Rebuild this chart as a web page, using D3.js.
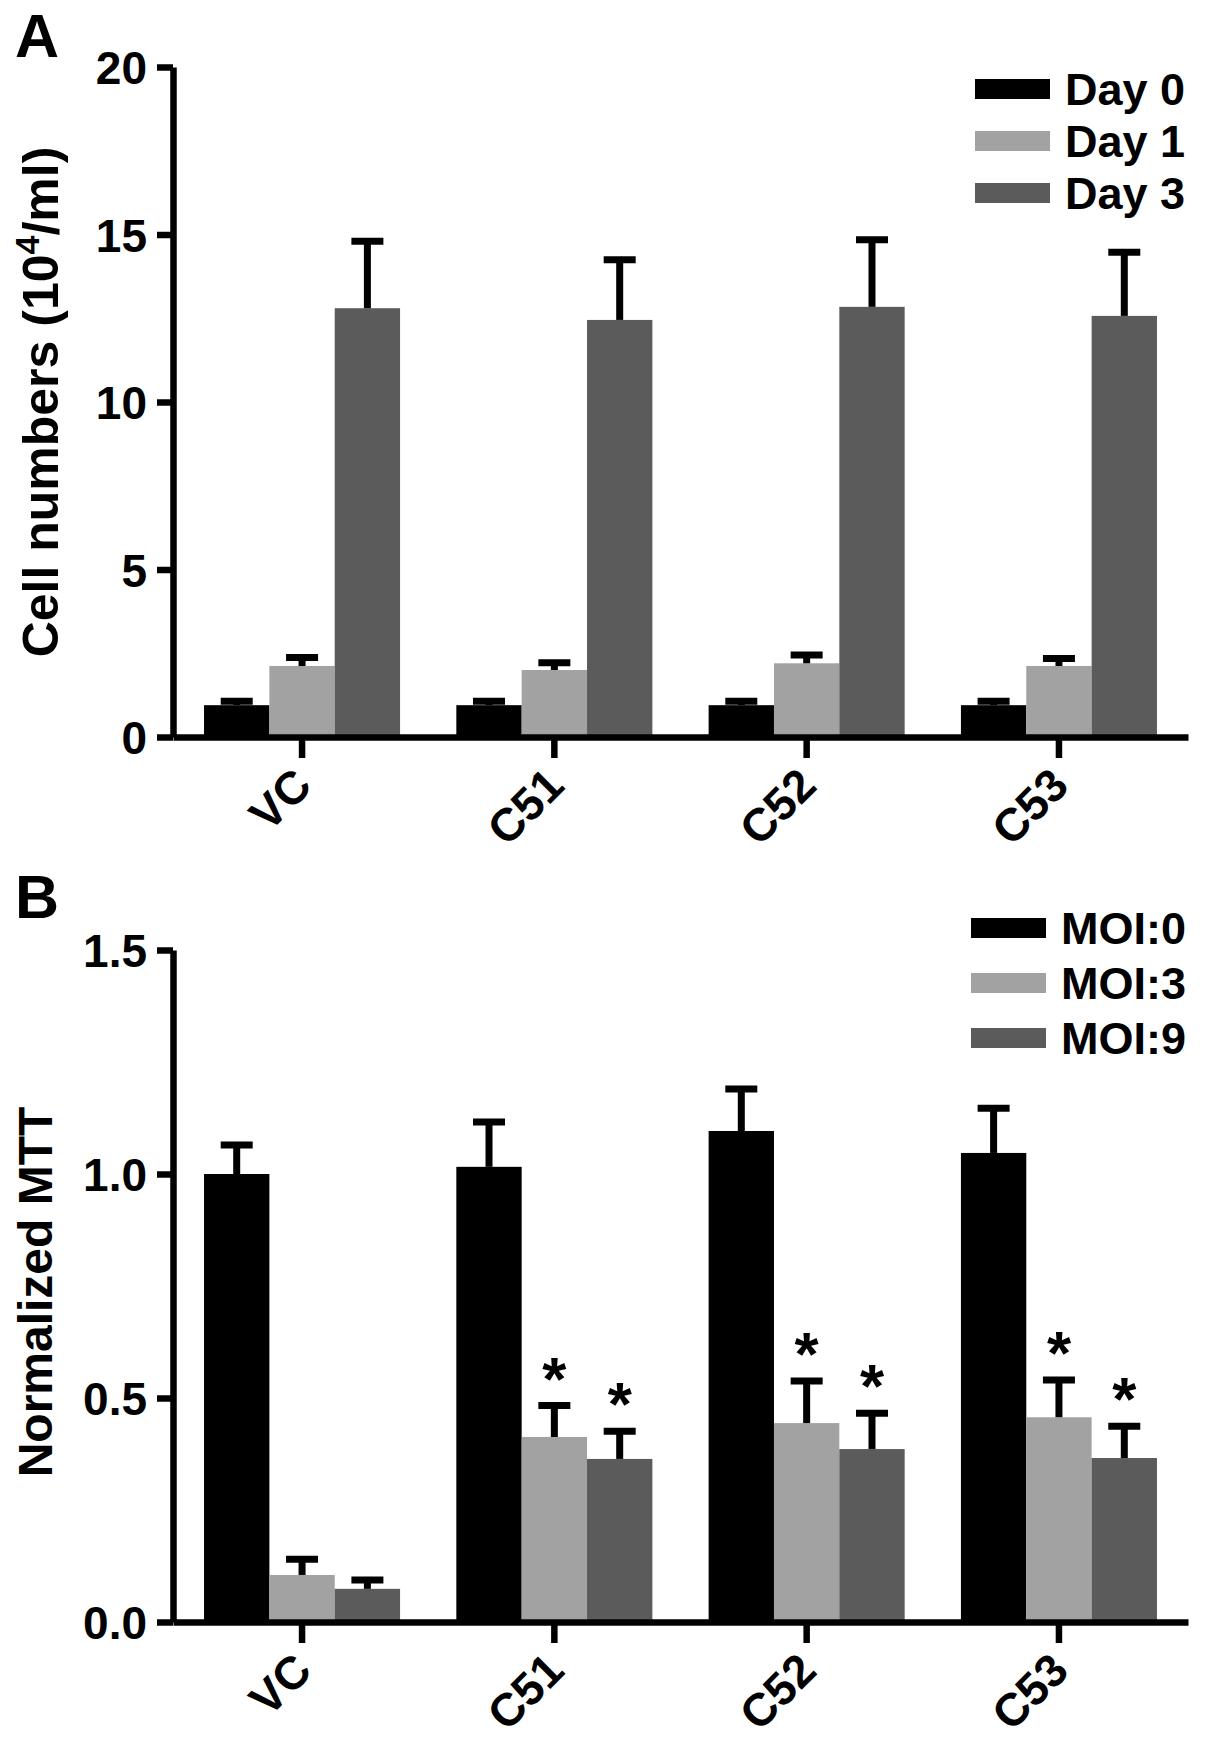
<!DOCTYPE html>
<html lang="en">
<head>
<meta charset="UTF-8">
<title>Cell numbers and normalized MTT</title>
<script src="https://d3js.org/d3.v7.min.js"></script>
<style>
    body {
        margin: 0;
        background: white;
    }
    svg text {
        font-family: "Liberation Sans", Arial, sans-serif;
        font-weight: bold;
        fill: #000;
    }
</style>
</head>
<body>
<div id="chart"></div>
<script>
    const groups = ["VC", "C51", "C52", "C53"];

    // panel A: cell numbers (10^4/ml)
    const daySeries = ["Day 0", "Day 1", "Day 3"];
    const dayMeans = [
        [0.95, 0.95, 0.95, 0.95],
        [2.12, 2.0, 2.2, 2.12],
        [12.8, 12.45, 12.84, 12.57]
    ];
    const dayErrors = [
        [0.12, 0.12, 0.12, 0.12],
        [0.25, 0.22, 0.25, 0.22],
        [2.0, 1.8, 2.0, 1.9]
    ];
    const dayTicks = [0, 5, 10, 15, 20];

    // panel B: normalized MTT
    const moiSeries = ["MOI:0", "MOI:3", "MOI:9"];
    const moiMeans = [
        [1.0, 1.016, 1.096, 1.047],
        [0.105, 0.413, 0.444, 0.457],
        [0.074, 0.364, 0.386, 0.366]
    ];
    const moiErrors = [
        [0.065, 0.10, 0.094, 0.10],
        [0.035, 0.07, 0.094, 0.083],
        [0.02, 0.062, 0.08, 0.071]
    ];
    const moiStars = [
        [false, false, false, false],
        [false, true, true, true],
        [false, true, true, true]
    ];
    const moiTicks = [0, 0.5, 1.0, 1.5];

    const colors = ["#000000", "#a2a2a2", "#5b5b5b"];

    const width = 1205, height = 1746;
    const axisLeftX = 173, axisRightX = 1188;
    const lineW = 6.5;

    const svg = d3.select("#chart")
        .append("svg")
        .attr("width", width)
        .attr("height", height);

    const x0 = d3.scaleBand()
        .domain(groups)
        .range([axisLeftX, axisRightX])
        .paddingInner(0.223)
        .paddingOuter(0.123);

    function drawPanel(p) {
        const g = svg.append("g");

        const x1 = d3.scaleBand()
            .domain(p.series)
            .range([0, x0.bandwidth()])
            .padding(0);

        const y = d3.scaleLinear()
            .domain([0, p.max])
            .range([p.bottom, p.top]);

        const rows = [];
        p.series.forEach((s, i) => {
            groups.forEach((grp, j) => {
                rows.push({
                    group: grp, series: s, i: i,
                    value: p.means[i][j],
                    err: p.errors[i][j],
                    star: p.stars ? p.stars[i][j] : false
                });
            });
        });

        // bars
        g.selectAll("rect.bar")
            .data(rows)
            .enter()
            .append("rect")
            .attr("class", "bar")
            .attr("x", d => x0(d.group) + x1(d.series))
            .attr("y", d => y(d.value))
            .attr("width", x1.bandwidth())
            .attr("height", d => y(0) - y(d.value))
            .attr("fill", d => colors[d.i]);

        // error bars, upper half only
        const cx = d => x0(d.group) + x1(d.series) + x1.bandwidth() / 2;
        const eb = g.selectAll("g.err")
            .data(rows)
            .enter()
            .append("g")
            .attr("class", "err");

        eb.append("line")
            .attr("x1", cx).attr("x2", cx)
            .attr("y1", d => y(d.value))
            .attr("y2", d => y(d.value + d.err))
            .attr("stroke", "#000")
            .attr("stroke-width", 7);

        eb.append("line")
            .attr("x1", d => cx(d) - 16).attr("x2", d => cx(d) + 16)
            .attr("y1", d => y(d.value + d.err))
            .attr("y2", d => y(d.value + d.err))
            .attr("stroke", "#000")
            .attr("stroke-width", 7);

        // significance stars
        g.selectAll("text.star")
            .data(rows.filter(d => d.star))
            .enter()
            .append("text")
            .attr("class", "star")
            .attr("x", cx)
            .attr("y", d => y(d.value + d.err) - 6)
            .attr("text-anchor", "middle")
            .style("font-size", "62px")
            .text("*");

        // y axis
        const yAxis = g.append("g")
            .attr("transform", `translate(${axisLeftX},0)`)
            .call(d3.axisLeft(y)
                .tickValues(p.ticks)
                .tickFormat(p.format)
                .tickSize(16)
                .tickSizeOuter(0)
                .tickPadding(10));
        yAxis.select(".domain").attr("stroke-width", lineW);
        yAxis.selectAll(".tick line").attr("stroke-width", lineW);
        yAxis.selectAll(".tick text")
            .attr("font-family", null)
            .attr("font-size", null)
            .attr("dy", "0.36em")
            .style("font-size", "46px");

        // x axis
        const xAxis = g.append("g")
            .attr("transform", `translate(0,${p.bottom})`)
            .call(d3.axisBottom(x0)
                .tickSize(21)
                .tickSizeOuter(0));
        xAxis.select(".domain").attr("stroke-width", lineW);
        xAxis.selectAll(".tick line").attr("stroke-width", lineW);
        xAxis.selectAll(".tick text").remove();
        xAxis.selectAll(".tick")
            .append("text")
            .attr("text-anchor", "end")
            .attr("transform", "translate(12,51) rotate(-45)")
            .style("font-size", "46px")
            .text(d => d);

        // y title
        const title = g.append("text")
            .attr("text-anchor", "middle")
            .attr("transform", `translate(${p.titleX},${(p.top + p.bottom) / 2 + p.titleShift}) rotate(-90)`)
            .style("font-size", p.titleSize + "px");
        p.title.forEach(part => {
            const t = title.append("tspan").text(part.text);
            if (part.sup) {
                t.attr("baseline-shift", "super").style("font-size", "34px");
            }
        });

        // panel letter
        g.append("text")
            .attr("x", 15)
            .attr("y", p.letterY)
            .style("font-size", "61px")
            .text(p.letter);

        // legend
        const leg = g.append("g")
            .attr("transform", `translate(${p.legendX},${p.legendY})`);
        const item = leg.selectAll("g")
            .data(p.series)
            .enter()
            .append("g")
            .attr("transform", (d, i) => `translate(0,${i * p.legendStep})`);
        item.append("rect")
            .attr("x", 0)
            .attr("y", -10)
            .attr("width", 75)
            .attr("height", 20)
            .attr("fill", (d, i) => colors[i]);
        item.append("text")
            .attr("x", 90)
            .attr("y", 16)
            .style("font-size", "45px")
            .text(d => d);
    }

    drawPanel({
        top: 67, bottom: 737, max: 20,
        ticks: dayTicks, format: d3.format("d"),
        series: daySeries, means: dayMeans, errors: dayErrors,
        title: [{text: "Cell numbers (10"}, {text: "4", sup: true}, {text: "/ml)"}],
        titleX: 58, titleShift: 0, titleSize: 50,
        letter: "A", letterY: 57,
        legendX: 975, legendY: 89, legendStep: 52
    });

    drawPanel({
        top: 950, bottom: 1622, max: 1.5,
        ticks: moiTicks, format: d3.format(".1f"),
        series: moiSeries, means: moiMeans, errors: moiErrors, stars: moiStars,
        title: [{text: "Normalized MTT"}],
        titleX: 52, titleShift: 6, titleSize: 48,
        letter: "B", letterY: 918,
        legendX: 971, legendY: 928, legendStep: 55
    });
</script>
</body>
</html>
